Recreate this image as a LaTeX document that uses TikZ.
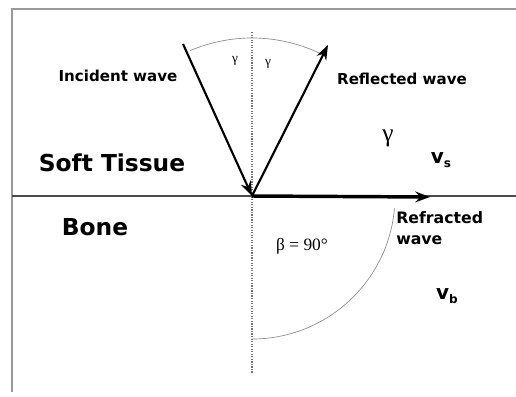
\documentclass[tikz,border=0pt]{standalone}
\usepackage{fontspec}
\newfontfamily\labelfont{DejaVu Sans}
\newfontfamily\greekfont{Liberation Serif}
\usetikzlibrary{arrows.meta,positioning}

\begin{document}
\begin{tikzpicture}[x=0.75pt,y=0.75pt,
		frame/.style={draw=black!40, line width=1.4pt},
		wave/.style={-{Stealth[length=11pt,width=8pt]}, line width=1.6pt, black},
		anglearc/.style={draw=black!45, line width=0.5pt},
		medium/.style={font=\labelfont\bfseries\fontsize{17.5}{20}\selectfont, inner sep=0pt},
		wavelabel/.style={font=\labelfont\bfseries\fontsize{11.3}{16}\selectfont, inner sep=0pt},
		greek/.style={font=\greekfont\fontsize{10}{12}\selectfont, inner sep=0pt}
	]
		\useasboundingbox (0,0) rectangle (516,-396);

		% frame and interface
		\draw[frame] (12,-392) -- (12,-9) -- (516,-9);
		\draw[black!70, line width=0.8pt] (12,-196) -- (516,-196);

		% points
		\coordinate (O) at (252,-196);
		\coordinate (inc) at (183,-44);
		\coordinate (refl) at (328,-45);
		\coordinate (refr) at (430,-197);
		\coordinate (ntop) at (252,-32);
		\coordinate (nbot) at (252,-374);

		\draw[black!55, densely dotted, line width=0.9pt] (ntop) -- (nbot);

		% angle arcs
		\draw[anglearc] (O) ++(113:158) arc (113:64:158);
		\draw[anglearc] (O) ++(-5:143) arc (-5:-90:143);

		% waves
		\draw[wave] (inc) -- (O);
		\draw[wave] (O) -- (refl);
		\draw[wave, line width=2.6pt] (O) -- (refr);

		% labels
		\node[medium] (soft) at (112,-163) {Soft Tissue};
		\node[medium] (bone) at (95,-227) {Bone};
		\node[wavelabel] (incl) at (118,-76) {Incident wave};
		\node[wavelabel] (refll) at (402,-79) {Reflected wave};
		\node[wavelabel, align=left, anchor=north west,
			font=\labelfont\bfseries\fontsize{11.8}{16}\selectfont] (refrl) at (396,-211) {Refracted\\wave};
		\node[greek] (g1) at (235,-61) {γ};
		\node[greek] (g2) at (268,-64) {γ};
		\node[greek, font=\greekfont\fontsize{19}{20}\selectfont] (g3) at (388,-138) {γ};
		\node[greek, font=\greekfont\fontsize{13}{14}\selectfont] (beta) at (302,-246) {β = 90°};
		\node[font=\labelfont\bfseries\fontsize{15}{16}\selectfont, inner sep=0pt] (vs) at (441,-160) {v\raisebox{-0.35ex}{\fontsize{9}{10}\selectfont s}};
		\node[font=\labelfont\bfseries\fontsize{15}{16}\selectfont, inner sep=0pt] (vb) at (447,-296) {v\raisebox{-0.35ex}{\fontsize{9}{10}\selectfont b}};
	\end{tikzpicture}
\end{document}
